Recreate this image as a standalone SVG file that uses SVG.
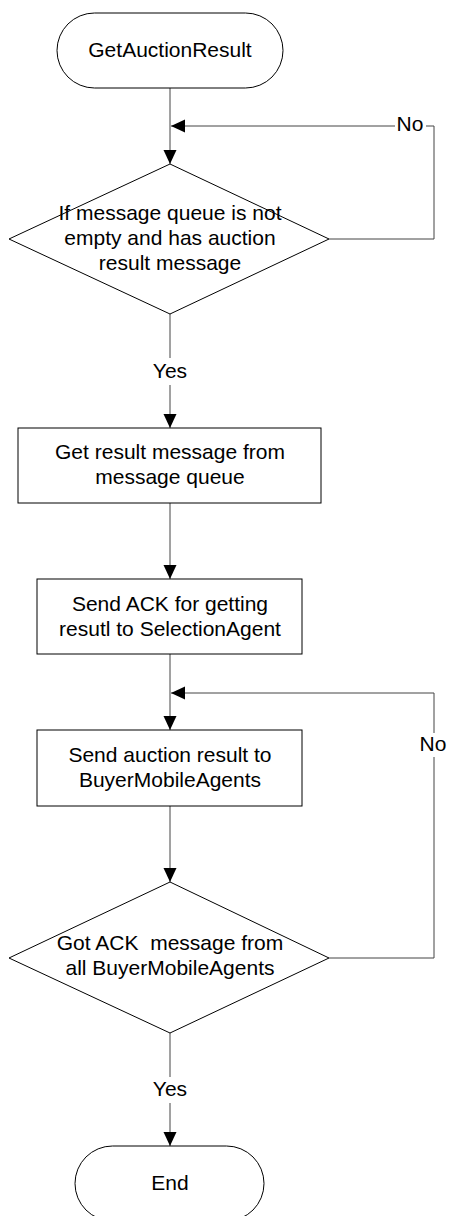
<svg xmlns="http://www.w3.org/2000/svg" width="449" height="1216" viewBox="0 0 449 1216">
<style>
.shape{fill:#fff;stroke:#000;stroke-width:1}
.conn{fill:none;stroke:#444;stroke-width:1}
.t{font-family:"Liberation Sans",Arial,sans-serif;font-size:21px;fill:#000;text-anchor:middle}
</style>
<defs>
<marker id="arr" markerUnits="userSpaceOnUse" markerWidth="14" markerHeight="14" viewBox="0 0 14 14" refX="14" refY="7" orient="auto">
<path d="M0,0.5 L14,7 L0,13.5 Z" fill="#000"/>
</marker>
</defs>
<rect width="449" height="1216" fill="#fff"/>
<g id="connectors">
<path class="conn" d="M170,88 V164" marker-end="url(#arr)"/>
<path class="conn" d="M329,239 H434 V126 H426"/>
<path class="conn" d="M395,126 H171" marker-end="url(#arr)"/>
<path class="conn" d="M170,314 V358"/>
<path class="conn" d="M170,385 V428" marker-end="url(#arr)"/>
<path class="conn" d="M170,503 V579" marker-end="url(#arr)"/>
<path class="conn" d="M170,654 V730" marker-end="url(#arr)"/>
<path class="conn" d="M170,806 V882" marker-end="url(#arr)"/>
<path class="conn" d="M329,958 H434 V757"/>
<path class="conn" d="M434,733 V693 H171" marker-end="url(#arr)"/>
<path class="conn" d="M170,1033 V1077"/>
<path class="conn" d="M170,1103 V1146" marker-end="url(#arr)"/>
<text class="t" x="410" y="131">No</text>
<text class="t" x="170" y="378">Yes</text>
<text class="t" x="433" y="751">No</text>
<text class="t" x="170" y="1096">Yes</text>
</g>
<g id="start">
<rect class="shape" x="57" y="13" width="226" height="75" rx="37.5" ry="37.5"/>
<text class="t" x="170" y="57">GetAuctionResult</text>
</g>
<g id="decision1">
<polygon class="shape" points="170,164 329,239 170,314 9,239"/>
<text class="t" x="170" y="220">If message queue is not</text>
<text class="t" x="170" y="245">empty and has auction</text>
<text class="t" x="170" y="270">result message</text>
</g>
<g id="getResult">
<rect class="shape" x="18" y="428" width="303" height="75"/>
<text class="t" x="170" y="459">Get result message from</text>
<text class="t" x="170" y="484">message queue</text>
</g>
<g id="sendAck">
<rect class="shape" x="37" y="579" width="265" height="75"/>
<text class="t" x="170" y="611">Send ACK for getting</text>
<text class="t" x="170" y="636">resutl to SelectionAgent</text>
</g>
<g id="sendResult">
<rect class="shape" x="37" y="730" width="265" height="76"/>
<text class="t" x="170" y="762">Send auction result to</text>
<text class="t" x="170" y="787">BuyerMobileAgents</text>
</g>
<g id="decision2">
<polygon class="shape" points="170,882 329,958 170,1033 9,958"/>
<text class="t" x="170" y="950" xml:space="preserve">Got ACK  message from</text>
<text class="t" x="170" y="975">all BuyerMobileAgents</text>
</g>
<g id="end">
<rect class="shape" x="75" y="1146" width="189" height="75" rx="37.5" ry="37.5"/>
<text class="t" x="170" y="1190">End</text>
</g>
</svg>
